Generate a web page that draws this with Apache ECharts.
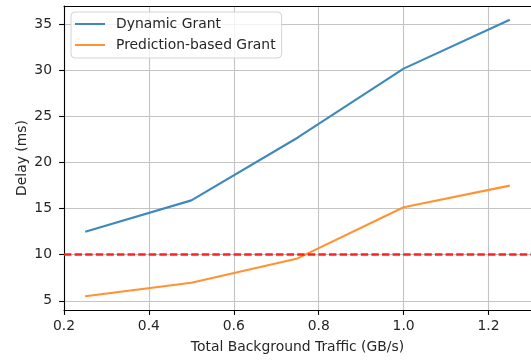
<!DOCTYPE html>
<html>
<head>
<meta charset="utf-8">
<script src="https://cdn.jsdelivr.net/npm/echarts@6/dist/echarts.min.js"></script>
<style>
  html, body { margin: 0; padding: 0; background: #fff; }
  #chart { width: 531px; height: 360px; }
</style>
</head>
<body>
<div id="chart"></div>
<script>
// Background traffic levels (GB/s)
const traffic = [0.25, 0.5, 0.75, 1.0, 1.25];
// Mean delay (ms) for each grant scheme
const dynamicGrant = [12.5, 15.9, 22.7, 30.2, 35.5];
const predictionGrant = [5.5, 6.95, 9.6, 15.15, 17.5];
// Delay bound drawn as a dashed reference line
const delayThreshold = 10;
// Tick values
const xTicks = [0.2, 0.4, 0.6, 0.8, 1.0, 1.2];
const yTicks = [5, 10, 15, 20, 25, 30, 35];

const FONT = 'DejaVu Sans';
const FS = 13.9;
const TEXT = '#262626';
const SPINE = { color: '#000', width: 1.1 };

const pairs = (xs, ys) => xs.map((x, i) => [x, ys[i]]);

const chart = echarts.init(document.getElementById('chart'), null, { renderer: 'canvas' });
chart.setOption({
  animation: false,
  backgroundColor: '#ffffff',
  textStyle: { fontFamily: FONT },
  grid: { left: 64, top: 6, right: -1, bottom: 50 },
  legend: {
    orient: 'vertical',
    left: 71, top: 12,
    padding: [4, 6, 5, 4],
    itemGap: 5,
    itemWidth: 30, itemHeight: 2,
    icon: 'rect',
    backgroundColor: 'rgba(255,255,255,0.8)',
    borderColor: '#d4d4d4', borderWidth: 1, borderRadius: 4,
    textStyle: { fontFamily: FONT, fontSize: FS, color: TEXT, lineHeight: 16, padding: [0, 0, 0, 6] },
    data: ['Dynamic Grant', 'Prediction-based Grant']
  },
  xAxis: [
    {
      type: 'value',
      min: 0.2, max: 1.3, interval: 0.2,
      name: 'Total Background Traffic (GB/s)',
      nameLocation: 'middle', nameGap: 30, nameMoveOverlap: false,
      nameTextStyle: { fontFamily: FONT, fontSize: FS, color: TEXT },
      axisLine: { show: true, onZero: false, lineStyle: SPINE },
      axisTick: { show: true, inside: false, length: 4.9, lineStyle: SPINE, customValues: xTicks },
      axisLabel: {
        fontFamily: FONT, fontSize: FS, color: TEXT, margin: 9,
        customValues: xTicks,
        formatter: v => v.toFixed(1)
      },
      splitLine: { show: true, lineStyle: { color: '#c4c4c4', width: 1.1 } }
    },
    {
      // top spine only
      type: 'value', position: 'top',
      min: 0.2, max: 1.3,
      axisLine: { show: true, onZero: false, lineStyle: SPINE },
      axisTick: { show: false }, axisLabel: { show: false }, splitLine: { show: false }
    }
  ],
  yAxis: {
    type: 'value',
    min: 4, max: 37,
    name: 'Delay (ms)',
    nameLocation: 'middle', nameGap: 35, nameMoveOverlap: false,
    nameTextStyle: { fontFamily: FONT, fontSize: FS, color: TEXT },
    axisLine: { show: true, onZero: false, lineStyle: SPINE },
    axisTick: { show: true, inside: false, length: 4.9, lineStyle: SPINE, customValues: yTicks },
    axisLabel: { fontFamily: FONT, fontSize: FS, color: TEXT, margin: 12, customValues: yTicks },
    splitLine: { show: true, lineStyle: { color: '#c4c4c4', width: 1.1 } }
  },
  series: [
    {
      name: 'Dynamic Grant',
      type: 'line',
      data: pairs(traffic, dynamicGrant),
      symbol: 'none', showSymbol: false,
      itemStyle: { color: '#3d89be' },
      lineStyle: { color: '#3d89be', width: 2.1 },
      z: 3,
      markLine: {
        silent: true,
        symbol: 'none',
        label: { show: false },
        lineStyle: { color: '#ff2020', width: 2.6, type: [7.4, 3.2] },
        data: [{ yAxis: delayThreshold }]
      }
    },
    {
      name: 'Prediction-based Grant',
      type: 'line',
      data: pairs(traffic, predictionGrant),
      symbol: 'none', showSymbol: false,
      itemStyle: { color: '#ff9233' },
      lineStyle: { color: '#ff9233', width: 2.1 },
      z: 3
    }
  ]
});
</script>
</body>
</html>
